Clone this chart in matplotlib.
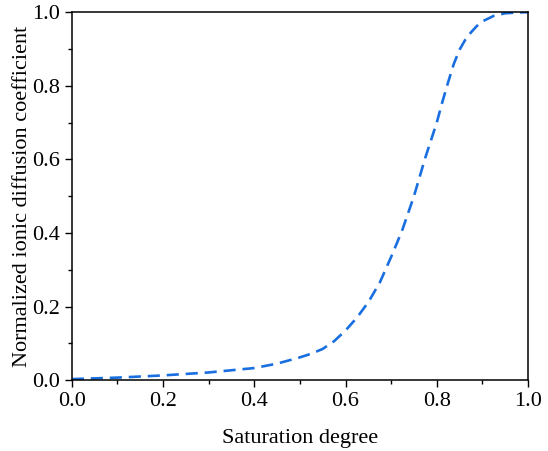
import matplotlib
matplotlib.use("Agg")
import matplotlib.pyplot as plt
from matplotlib.ticker import MultipleLocator

# Saturation degree vs normalized ionic diffusion coefficient
saturation = [0.0, 0.1, 0.2, 0.3, 0.4, 0.45, 0.5, 0.525, 0.55, 0.575, 0.6, 0.625,
              0.65, 0.675, 0.7, 0.7125, 0.725, 0.75, 0.775, 0.8, 0.8125, 0.825,
              0.8375, 0.85, 0.8625, 0.875, 0.8875, 0.9, 0.925, 0.95, 0.975, 1.0]
diffusion = [0.003, 0.007, 0.013, 0.021, 0.033, 0.045, 0.062, 0.072, 0.085, 0.106,
             0.135, 0.17, 0.212, 0.265, 0.335, 0.372, 0.41, 0.5, 0.605, 0.70, 0.757,
             0.81, 0.86, 0.898, 0.925, 0.945, 0.962, 0.975, 0.99, 0.997, 0.999, 1.0]

plt.rcParams["font.family"] = ["Liberation Serif", "DejaVu Serif"]

fig = plt.figure(figsize=(5.48, 4.51), dpi=100)
ax = fig.add_axes([0.131, 0.157, 0.8325, 0.816])

ax.plot(saturation, diffusion, color="#1a6fe0", lw=1.9, ls="--", dashes=(4.6, 2.6))

ax.set_xlim(0, 1)
ax.set_ylim(0, 1)
ax.xaxis.set_major_locator(MultipleLocator(0.2))
ax.xaxis.set_minor_locator(MultipleLocator(0.1))
ax.yaxis.set_major_locator(MultipleLocator(0.2))
ax.yaxis.set_minor_locator(MultipleLocator(0.1))
ax.tick_params(which="both", direction="out", top=False, right=False,
               labelsize=16, width=1, color="black")
ax.tick_params(which="major", length=5)
ax.tick_params(which="minor", length=3)
for sp in ax.spines.values():
    sp.set_linewidth(1.1)
    sp.set_color("black")

ax.set_xlabel("Saturation degree", fontsize=16, labelpad=13)
ax.set_ylabel("Normalized ionic diffusion coefficient", fontsize=16, labelpad=0)

fig.savefig("out.png", dpi=100)
